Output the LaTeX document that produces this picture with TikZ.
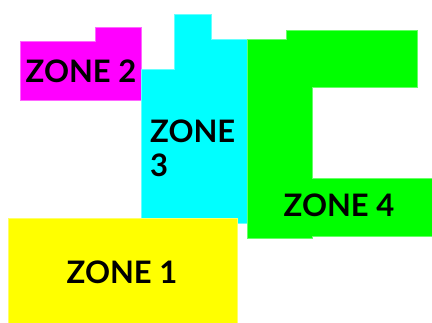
\documentclass[tikz,border=0pt]{standalone}
\usepackage{fontspec}
\setmainfont{Lato}
\tikzset{
  zone/.style={draw=#1!60!white, line width=0.5pt, fill=#1},
  lbl/.style={font=\fontsize{31}{34}\selectfont\bfseries, inner sep=0pt, text=black}
}
\definecolor{zmag}{RGB}{255,0,255}
\definecolor{zcyan}{RGB}{0,255,255}
\definecolor{zgreen}{RGB}{0,255,0}
\definecolor{zyellow}{RGB}{255,255,0}
\begin{document}
\begin{tikzpicture}[x=1pt,y=-1pt]
\useasboundingbox (0,0) rectangle (432,322);
% zone 2
\path[zone=zmag] (20,41) -- (95,41) -- (95,27) -- (141,27) -- (141,100) -- (20,100) -- cycle;
% zone 3
\path[zone=zcyan] (141,69) -- (174,69) -- (174,14) -- (211,14) -- (211,39) -- (247,39) -- (247,223) -- (141,223) -- cycle;
% zone 4
\path[zone=zgreen] (247,39) -- (286,39) -- (286,30) -- (417,30) -- (417,87) -- (312,87) -- (312,178) -- (433,178) -- (433,236) -- (312,236) -- (312,238) -- (247,238) -- cycle;
% zone 1
\path[zone=zyellow] (8,218) -- (237,218) -- (237,323) -- (8,323) -- cycle;
\node[lbl, anchor=base] (z2) at (81,82) {ZONE 2};
\node[lbl, anchor=north west, align=left] (z3) at (150,120) {ZONE\\3};
\node[lbl, anchor=base] (z4) at (339,216) {ZONE 4};
\node[lbl, anchor=base] (z1) at (122,283) {ZONE 1};
\end{tikzpicture}
\end{document}
